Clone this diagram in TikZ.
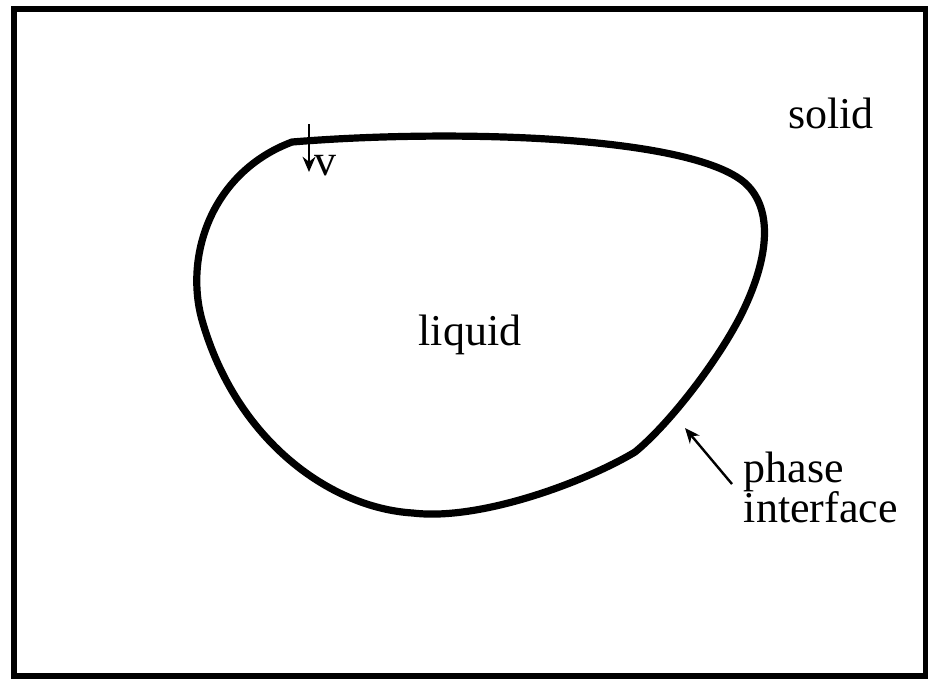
\documentclass[tikz,border=0pt]{standalone}
\usepackage{fontspec}
\setmainfont{Liberation Serif}
\usepackage{tikz}
\usetikzlibrary{arrows.meta, positioning, calc}

\begin{document}
\begin{tikzpicture}[x=0.25pt, y=-0.25pt,
  lbl/.style={font=\fontsize{11}{9.6}\selectfont, inner sep=0pt, align=left},
  ptr/.style={-{Stealth[length=3.8pt, width=3.2pt]}, line width=0.6pt}]
  \useasboundingbox (0,0) rectangle (928,679);
  % domain frame
  \draw[line width=1.6pt] (14,9) rectangle (926,676);
  % interface between liquid and solid
  \draw[line width=1.8pt, line join=round]
    (292,142) .. controls (450,129) and (690,135) .. (745,183)
    .. controls (775,210) and (768,262) .. (740,317)
    .. controls (715,365) and (668,425) .. (635,452)
    .. controls (585,482) and (480,521) .. (413,513)
    .. controls (330,508) and (236,440) .. (202,320)
    .. controls (184,255) and (212,172) .. cycle;
  \node[lbl] (solid) at (831,113) {solid};
  \node[lbl] (liquid) at (470,335) {liquid};
  \node[lbl, anchor=base west] (phase) at (743,522) {phase\\[-1.2pt]interface};
  % interface velocity
  \coordinate (vtop) at (309,124);
  \coordinate (vtip) at (309,172);
  \draw[ptr] (vtop) -- (vtip);
  \node[lbl, right=1.2pt of vtip, yshift=1.5pt] (v) {v};
  % pointer to the interface
  \coordinate (pitail) at (732,484);
  \coordinate (pitip) at (685,428);
  \draw[ptr] (pitail) -- (pitip);
\end{tikzpicture}
\end{document}
